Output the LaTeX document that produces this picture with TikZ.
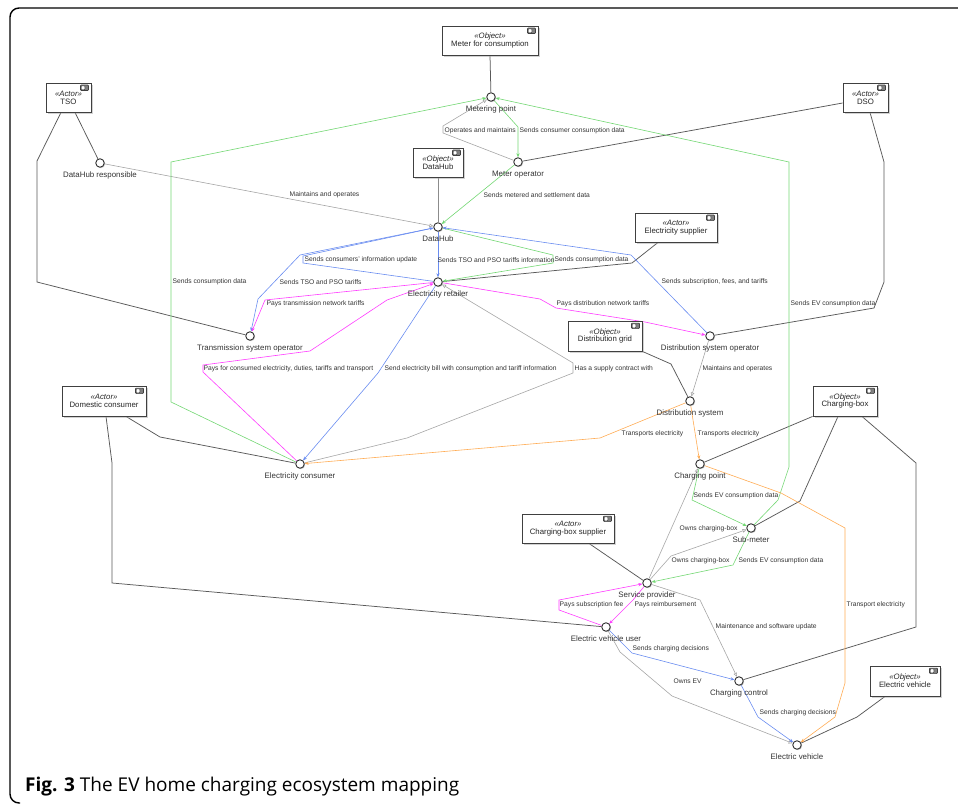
\documentclass[tikz,border=0pt]{standalone}
\usepackage{fontspec}
\setmainfont{Liberation Sans}
\newfontfamily\capfont{Open Sans}
\usetikzlibrary{arrows.meta,shadows,backgrounds}

\definecolor{gnline}{RGB}{115,215,115}
\definecolor{blline}{RGB}{105,140,240}
\definecolor{mgline}{RGB}{255,60,255}
\definecolor{orline}{RGB}{255,172,85}

\newcommand\stereo[1]{{\itshape «#1»}}
\newcommand\compicon[1]{%
  \draw[black!75, line width=0.6pt, fill=black!50, rounded corners=0.8pt] ([xshift=-11pt,yshift=-2.5pt]#1.north east) rectangle ++(8,5.5);
  \draw[black!75, line width=0.4pt, fill=white, rounded corners=0.6pt] ([xshift=-10.2pt,yshift=-3.3pt]#1.north east) rectangle ++(3.6,3.9);}

\begin{document}
\begin{tikzpicture}[x=1pt, y=-1pt,
  pt/.style={circle, draw=black!80, fill=white, line width=0.9pt, minimum size=8.5pt, inner sep=0pt,
    drop shadow={shadow xshift=0.9pt, shadow yshift=-0.9pt, fill=black!45}},
  plab/.style={font=\fontsize{7.9}{9}\selectfont, text=black!80, inner sep=0.5pt, text height=5.8pt, text depth=1.7pt},
  box/.style={draw=black!75, fill=white, line width=0.9pt, inner sep=0pt, align=center,
    font=\fontsize{7.8}{7.8}\selectfont, text=black!85,
    drop shadow={shadow xshift=2pt, shadow yshift=-2pt, fill=black!35}},
  elab/.style={anchor=west, inner sep=0.5pt, font=\fontsize{6.7}{8}\selectfont, text=black!80},
  assoc/.style={draw=black!65, line width=0.75pt},
  flow/.style={line width=0.6pt, -{Stealth[length=4pt, width=3.2pt]}},
  gyflow/.style={draw=black!35, line width=0.6pt, -{Triangle[open, length=4pt, width=3.6pt]}},
  gnflow/.style={flow, draw=gnline},
  blflow/.style={flow, draw=blline},
  mgflow/.style={flow, draw=mgline},
  orflow/.style={flow, draw=orline},
  label distance=3.5pt]
\useasboundingbox (0,0) rectangle (958,805);
\draw[line width=1.4pt, rounded corners=9pt] (959,8) -- (10,8) -- (10,803) -- (20,803);

\node[box, minimum width=96pt, minimum height=29pt] (mfc) at (490,40.5) {\stereo{Object}\\Meter for consumption};
\node[box, minimum width=45pt, minimum height=29pt] (tso) at (68.5,97.5) {\stereo{Actor}\\TSO};
\node[box, minimum width=45pt, minimum height=29pt] (dso) at (865.5,97.5) {\stereo{Actor}\\DSO};
\node[box, minimum width=50pt, minimum height=29pt] (dhb) at (438,162.5) {\stereo{Object}\\DataHub};
\node[box, minimum width=82pt, minimum height=29pt] (esup) at (676,227.5) {\stereo{Actor}\\Electricity supplier};
\node[box, minimum width=74pt, minimum height=30pt] (dgrid) at (605,336) {\stereo{Object}\\Distribution grid};
\node[box, minimum width=84pt, minimum height=30pt] (dcons) at (104,401) {\stereo{Actor}\\Domestic consumer};
\node[box, minimum width=64pt, minimum height=30pt] (cbox) at (845,401) {\stereo{Object}\\Charging-box};
\node[box, minimum width=92pt, minimum height=29pt] (cbsup) at (568,528.5) {\stereo{Actor}\\Charging-box supplier};
\node[box, minimum width=70pt, minimum height=30pt] (evbox) at (905,681) {\stereo{Object}\\Electric vehicle};
\foreach \b in {mfc,tso,dso,dhb,esup,dgrid,dcons,cbox,cbsup,evbox} \compicon{\b};

\node[pt, label={[plab]below:Metering point}] (mp) at (491,97) {};
\node[pt, label={[plab]below:Meter operator}] (mop) at (518,162) {};
\node[pt, label={[plab]below:DataHub responsible}] (dhr) at (100,163) {};
\node[pt, label={[plab]below:DataHub}] (dhp) at (438,227) {};
\node[pt, label={[plab]below:Electricity retailer}] (erp) at (438,282) {};
\node[pt, label={[plab]below:Transmission system operator}] (tsop) at (250,336) {};
\node[pt, label={[plab]below:Distribution system operator}] (dsop) at (710,336) {};
\node[pt, label={[plab]below:Distribution system}] (dsys) at (690,401) {};
\node[pt, label={[plab]below:Electricity consumer}] (ecp) at (300,464) {};
\node[pt, label={[plab]below:Charging point}] (cpt) at (700,464) {};
\node[pt, label={[plab]below:Sub-meter}] (smt) at (751,528) {};
\node[pt, label={[plab]below:Service provider}] (spr) at (647,583) {};
\node[pt, label={[plab]below:Electric vehicle user}] (evu) at (606,627) {};
\node[pt, label={[plab]below:Charging control}] (ccl) at (739,681) {};
\node[pt, label={[plab]below:Electric vehicle}] (evp) at (797,745) {};

\begin{scope}[on background layer]
\draw[assoc] (mfc.south) -- (mp);
\draw[assoc] ([xshift=6.5pt]tso.south) -- (dhr);
\draw[assoc] ([xshift=-7.5pt]tso.south) -- (37,161) -- (37,282) -- (tsop);
\draw[assoc] ([yshift=-5.5pt]dso.west) -- (mop);
\draw[assoc] ([xshift=4.5pt]dso.south) -- (884,162) -- (884,282) -- (874,308) -- (dsop);
\draw[assoc, draw=black!45] (dhb.south) -- (dhp);
\draw[assoc] ([xshift=-18pt]esup.south) -- (632,263) -- (erp);
\draw[assoc] (dgrid.south east) -- (671,364) -- (dsys);
\draw[assoc] ([xshift=22pt]dcons.south) -- (160,437) -- (ecp);
\draw[assoc] ([xshift=2pt]dcons.south) -- (112,463) -- (112,583) -- (evu);
\draw[assoc] (cbox.south west) -- (cpt);
\draw[assoc] ([xshift=-7pt]cbox.south) -- (800,501) -- (smt);
\draw[assoc] ([xshift=17pt]cbox.south) -- (916,463) -- (916,627) -- (ccl);
\draw[assoc] ([xshift=21pt]cbsup.south) -- (spr);
\draw[assoc] ([xshift=-20pt]evbox.south) -- (857,717) -- (evp);

\draw[gyflow] (dhr) -- (dhp);
\draw[gyflow] (mop) -- (443,133) -- (443,126) -- (mp);
\draw[gyflow] (dsop) -- (dsys);
\draw[gyflow] (ecp) -- (407,438) -- (573,373) -- (573,363) -- (erp);
\draw[gyflow] (spr) -- (cpt);
\draw[gyflow] (spr) -- (671,556) -- (smt);
\draw[gyflow] (spr) -- (700,600) -- (ccl);
\draw[gyflow] (evu) -- (620,652) -- (672,696) -- (evp);

\draw[gnflow] (mp) -- (518,127) -- (mop);
\draw[gnflow] (mop) -- (dhp);
\draw[gnflow] (ecp) -- (171,402) -- (171,162) -- (mp);
\draw[gnflow] (smt) -- (778,500) -- (789,467) -- (789,162) -- (mp);
\draw[gnflow] (cpt) -- (692,500) -- (smt);
\draw[gnflow] (smt) -- (733,565) -- (spr);
\draw[gnflow] (dhp) -- (553,255) -- (553,263) -- (erp);

\draw[blflow] (dhp) -- (erp);
\draw[blflow] (erp) -- (303,263) -- (303,256) -- (dhp);
\draw[blflow] (dhp) -- (300,255) -- (258,299) -- (tsop);
\draw[blflow] (erp) -- (378,373) -- (ecp);
\draw[blflow] (dsop) -- (631,255) -- (dhp);
\draw[blflow] (evu) -- (632,653) -- (ccl);
\draw[blflow] (ccl) -- (758,717) -- (evp);

\draw[mgflow] (erp) -- (265,300) -- (tsop);
\draw[mgflow] (ecp) -- (203,372) -- (203,365) -- (310,351) -- (387,300) -- (erp);
\draw[mgflow] (erp) -- (540,299) -- (556,308) -- (645,322) -- (dsop);
\draw[mgflow] (evu) -- (559,610) -- (559,600) -- (spr);
\draw[mgflow] (spr) -- (633,600) -- (evu);

\draw[orflow] (dsys) -- (600,438) -- (ecp);
\draw[orflow] (dsys) -- (cpt);
\draw[orflow] (cpt) -- (781,493) -- (845,528) -- (845,683) -- (835,717) -- (evp);
\end{scope}

\node[elab] (l1) at (289,195) {Maintains and operates};
\node[elab] (l2) at (444,131) {Operates and maintains};
\node[elab] (l3) at (519,131) {Sends consumer consumption data};
\node[elab] (l4) at (483,195) {Sends metered and settlement data};
\node[elab] (l5) at (172,282) {Sends consumption data};
\node[elab] (l6) at (790,304) {Sends EV consumption data};
\node[elab] (l7) at (304,260) {Sends consumers' information update};
\node[elab] (l8) at (437,260) {Sends TSO and PSO tariffs information};
\node[elab] (l9) at (554,260) {Sends consumption data};
\node[elab] (l10) at (279,282) {Sends TSO and PSO tariffs};
\node[elab] (l11) at (266,304) {Pays transmission network tariffs};
\node[elab] (l12) at (556,304) {Pays distribution network tariffs};
\node[elab] (l13) at (661,282) {Sends subscription, fees, and tariffs};
\node[elab] (l14) at (203,369) {Pays for consumed electricity, duties, tariffs and transport};
\node[elab] (l15) at (384,369) {Send electricity bill with consumption and tariff information};
\node[elab] (l16) at (574,369) {Has a supply contract with};
\node[elab] (l17) at (702,369) {Maintains and operates};
\node[elab] (l18) at (621,434) {Transports electricity};
\node[elab] (l19) at (697,434) {Transports electricity};
\node[elab] (l20) at (693,496) {Sends EV consumption data};
\node[elab] (l21) at (679,529) {Owns charging-box};
\node[elab] (l22) at (671,561) {Owns charging-box};
\node[elab] (l23) at (738,561) {Sends EV consumption data};
\node[elab] (l24) at (559,605) {Pays subscription fee};
\node[elab] (l25) at (634,605) {Pays reimbursement};
\node[elab] (l26) at (846,605) {Transport electricity};
\node[elab] (l27) at (715,627) {Maintenance and software update};
\node[elab] (l28) at (632,649) {Sends charging decisions};
\node[elab] (l29) at (673,681) {Owns EV};
\node[elab] (l30) at (759,713) {Sends charging decisions};

\node[anchor=base west, inner sep=0pt, font=\capfont\fontsize{19}{22}\selectfont] (cap) at (25,791) {\textbf{Fig. 3} The EV home charging ecosystem mapping};
\end{tikzpicture}
\end{document}
